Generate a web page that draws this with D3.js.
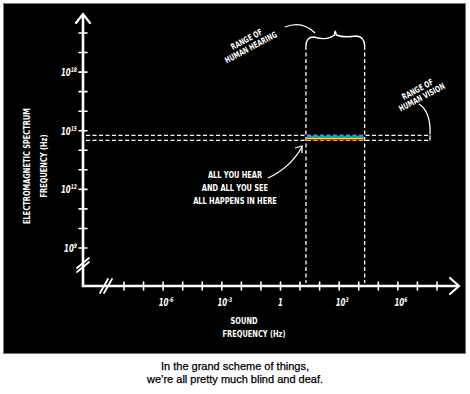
<!DOCTYPE html>
<html>
<head>
<meta charset="utf-8">
<script src="https://cdn.jsdelivr.net/npm/d3@7"></script>
<style>
  body { margin: 0; background: #fff; }
  .hand { font-family: "DejaVu Sans Condensed", "DejaVu Sans", sans-serif; font-weight: bold; fill: #fff; }
</style>
</head>
<body>
<div id="chart"></div>
<script>
// tick values (decades) on both axes
var emTicks = [1e9, 1e10, 1e11, 1e12, 1e13, 1e14, 1e15, 1e16, 1e17, 1e18, 1e19, 1e20];
var emLabelExps = [9, 12, 15, 18];
var soundTicks = [1e-8, 1e-7, 1e-6, 1e-5, 1e-4, 1e-3, 1e-2, 1e-1, 1, 1e1, 1e2, 1e3, 1e4, 1e5, 1e6, 1e7, 1e8];
var soundLabelExps = [-6, -3, 0, 3, 6];

// ranges (Hz)
var hearingRange = [20, 20000];
var visionRange = [3.2e14, 5.8e14];

// text
var yTitle = ["ELECTROMAGNETIC   SPECTRUM", "FREQUENCY  (Hz)"];
var xTitle = ["SOUND", "FREQUENCY  (Hz)"];
var hearingNote = ["RANGE OF", "HUMAN HEARING"];
var visionNote = ["RANGE OF", "HUMAN VISION"];
var centerNote = ["ALL YOU HEAR", "AND ALL YOU SEE", "ALL HAPPENS IN HERE"];
var caption = ["In the grand scheme of things,", "we\u2019re all pretty much blind and deaf."];

var W = 470, H = 394;
var svg = d3.select("#chart").append("svg").attr("width", W).attr("height", H);

// black panel
svg.append("rect").attr("x", 3.5).attr("y", 3.5).attr("width", 462).attr("height", 350)
    .attr("fill", "#000").attr("stroke", "#777").attr("stroke-width", 1);

var x = d3.scaleLog().domain([1e-8, 1e8]).range([124, 437]);
var y = d3.scaleLog().domain([1e9, 1e20]).range([248, 33]);

var ox = 83, oy = 286;
var white = "#fff";

// narrow, tall hand lettering
function hand(parent, s, tx, ty, size, anchor, rot) {
    return parent.append("text").attr("class", "hand").attr("font-size", size)
        .attr("text-anchor", anchor || "middle")
        .attr("transform", "translate(" + tx + "," + ty + ")" + (rot ? " rotate(" + rot + ")" : "") + " scale(0.78,1)")
        .text(s);
}

// ---- axes ----
var ax = svg.append("g").attr("stroke", white).attr("fill", "none").attr("stroke-linecap", "round");
ax.append("path").attr("d", "M" + ox + "," + oy + "V15").attr("stroke-width", 2.6);
ax.append("path").attr("d", "M" + ox + "," + oy + "H458").attr("stroke-width", 2.6);
// arrow heads
ax.append("path").attr("d", "M" + (ox - 7) + ",23 L" + ox + ",14 L" + (ox + 7) + ",23").attr("stroke-width", 2.2);
ax.append("path").attr("d", "M450," + (oy - 8) + " L459," + oy + " L450," + (oy + 8)).attr("stroke-width", 2.2);

// breaks "//"
[0, 4].forEach(function(d) {
    ax.append("line").attr("x1", ox - 6).attr("y1", 268 + d).attr("x2", ox + 6).attr("y2", 258 + d)
        .attr("stroke-width", 1.8);
    ax.append("line").attr("x1", 100 + d).attr("y1", oy + 7).attr("x2", 108 + d).attr("y2", oy - 7)
        .attr("stroke-width", 1.8);
});

// ticks
ax.selectAll(".yt").data(emTicks).enter().append("line")
    .attr("x1", ox - 4).attr("x2", ox + 4)
    .attr("y1", function(d) { return y(d); }).attr("y2", function(d) { return y(d); })
    .attr("stroke-width", 1.6);
ax.selectAll(".xt").data(soundTicks).enter().append("line")
    .attr("y1", oy - 4).attr("y2", oy + 4)
    .attr("x1", function(d) { return x(d); }).attr("x2", function(d) { return x(d); })
    .attr("stroke-width", 1.6);

// tick labels with superscripts
function powLabel(sel, e) {
    if (e === 0) { sel.append("tspan").text("1"); return; }
    sel.append("tspan").text("10");
    sel.append("tspan").attr("dy", -4).attr("font-size", 6.5).text(e < 0 ? "-" + (-e) : e);
}
emLabelExps.forEach(function(e) {
    var t = hand(svg, "", 77, y(Math.pow(10, e)) + 4, 10, "end", 0).attr("font-style", "italic").attr("font-weight", "normal");
    powLabel(t, e);
});
soundLabelExps.forEach(function(e) {
    var t = hand(svg, "", x(Math.pow(10, e)) + (e === 0 ? 0 : 3), 306, 10, "middle", 0)
        .attr("font-style", "italic").attr("font-weight", "normal");
    powLabel(t, e);
});

// axis titles
yTitle.forEach(function(s, i) {
    hand(svg, s, 30 + i * 17, 166, 9.5, "middle", -90);
});
xTitle.forEach(function(s, i) {
    hand(svg, s, i === 0 ? 244 : 254, 324 + i * 13, 9.5, "middle", 0);
});

// ---- hearing range ----
var hx1 = x(hearingRange[0]), hx2 = x(hearingRange[1]);
var dash = svg.append("g").attr("stroke", white).attr("fill", "none").attr("stroke-width", 1.3)
    .attr("stroke-dasharray", "4,2.5");
dash.append("line").attr("x1", hx1).attr("x2", hx1).attr("y1", 46).attr("y2", oy - 3);
dash.append("line").attr("x1", hx2).attr("x2", hx2).attr("y1", 46).attr("y2", oy - 3);

// curly brace on top
var hm = (hx1 + hx2) / 2;
svg.append("path").attr("fill", "none").attr("stroke", white).attr("stroke-width", 1.4)
    .attr("d", "M" + hx1 + ",46 Q" + hx1 + ",37 " + (hx1 + 8) + ",37 Q" + (hm - 8) + ",41 " + (hm - 1) + ",35 L"
        + hm + ",31 L" + (hm + 1) + ",35 Q" + (hm + 8) + ",38 " + (hx2 - 8) + ",36 Q" + hx2 + ",37 " + hx2 + ",46");

// ---- vision range ----
var vy1 = y(visionRange[1]), vy2 = y(visionRange[0]);
var vxEnd = 430;
dash.append("line").attr("x1", ox + 3).attr("x2", vxEnd).attr("y1", vy1).attr("y2", vy1);
dash.append("line").attr("x1", ox + 3).attr("x2", vxEnd).attr("y1", vy2).attr("y2", vy2);
svg.append("line").attr("x1", vxEnd).attr("x2", vxEnd).attr("y1", vy1).attr("y2", vy2)
    .attr("stroke", white).attr("stroke-width", 1.3);

// rainbow where both overlap (stripes: blue, cyan, green, yellow, red)
var grad = svg.append("defs").append("linearGradient").attr("id", "rainbow")
    .attr("x1", 0).attr("y1", 0).attr("x2", 0).attr("y2", 1);
[["0%", "#2a2aff"], ["20%", "#2a2aff"], ["20%", "#00a0f0"], ["40%", "#00a0f0"], ["40%", "#10c830"],
 ["60%", "#10c830"], ["60%", "#f8f000"], ["80%", "#f8b000"], ["80%", "#e82000"], ["100%", "#c01000"]]
    .forEach(function(s) { grad.append("stop").attr("offset", s[0]).attr("stop-color", s[1]); });
svg.append("rect").attr("x", hx1 + 1).attr("width", hx2 - hx1 - 2)
    .attr("y", vy1).attr("height", vy2 - vy1).attr("fill", "url(#rainbow)");

// ---- annotations ----
function note(lines, cx, cy, ang, lh) {
    var g = svg.append("g").attr("transform", "translate(" + cx + "," + cy + ") rotate(" + ang + ")");
    lines.forEach(function(s, i) {
        hand(g, s, 0, i * lh, 8.5, "middle", 0);
    });
}
note(hearingNote, 248, 42, -28, 9);
note(visionNote, 419, 92, -28, 9);

svg.append("path").attr("fill", "none").attr("stroke", white).attr("stroke-width", 1.3)
    .attr("d", "M285,27 Q302,20 315,33");
svg.append("path").attr("fill", "none").attr("stroke", white).attr("stroke-width", 1.3)
    .attr("d", "M419,104 Q431,112 430," + (vy1 - 1));

centerNote.forEach(function(s, i) {
    hand(svg, s, 235, 178 + i * 13, 9.5, "middle", 0);
});
// arrow into the box
svg.append("path").attr("fill", "none").attr("stroke", white).attr("stroke-width", 1.3)
    .attr("d", "M268,178 Q290,168 302,147");
svg.append("path").attr("fill", "none").attr("stroke", white).attr("stroke-width", 1.3)
    .attr("d", "M295,148 L302,146 L302,153");

// caption
caption.forEach(function(s, i) {
    svg.append("text").attr("x", 235).attr("y", 370 + i * 13).attr("text-anchor", "middle")
        .attr("font-family", "Liberation Sans, Arial, sans-serif").attr("font-size", 11)
        .attr("fill", "#000").attr("stroke", "#000").attr("stroke-width", 0.25).text(s);
});
</script>
</body>
</html>
